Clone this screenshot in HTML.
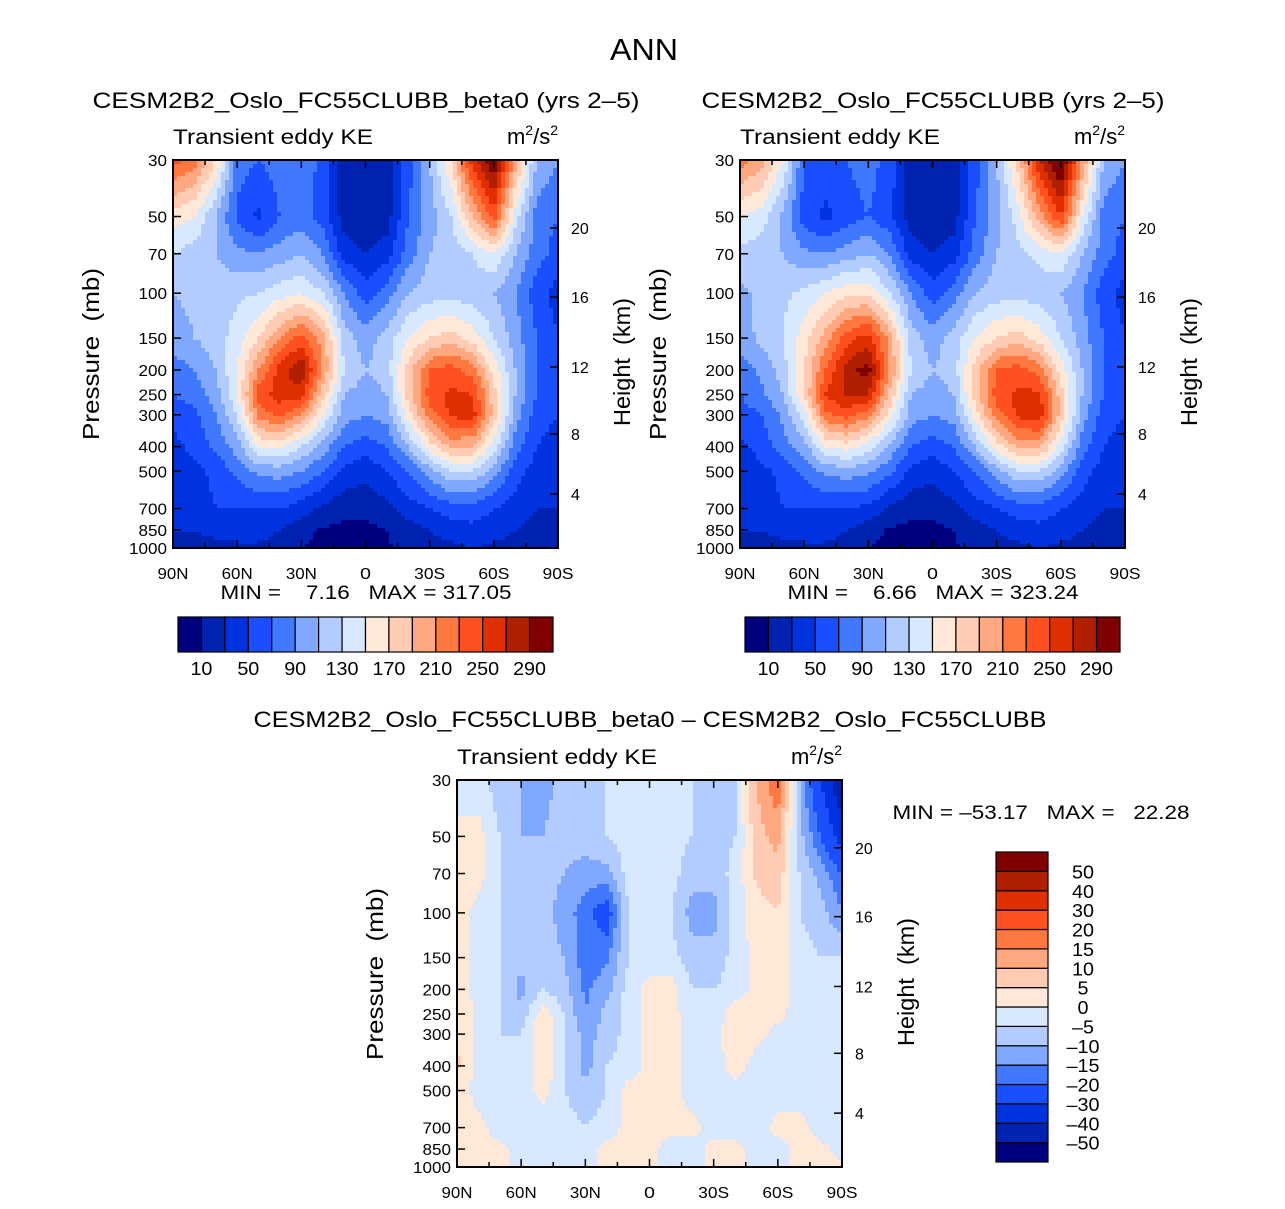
<!DOCTYPE html>
<html><head><meta charset="utf-8"><style>
html,body{margin:0;padding:0;background:#fff}
svg text{font-family:"Liberation Sans",sans-serif;fill:#000;white-space:pre}
</style></head><body>
<svg id="s" width="1285" height="1204" viewBox="0 0 1285 1204" xmlns="http://www.w3.org/2000/svg">
<text x="644" y="60" font-size="31" text-anchor="middle" textLength="68" lengthAdjust="spacingAndGlyphs">ANN</text>
</svg>
<script>
const lats=[90,80,70,60,50,40,30,20,10,0,-10,-20,-30,-40,-50,-60,-70,-80,-90];
const levels=[30,50,70,100,150,200,250,300,400,500,700,850,1000];
const keLevels=[10,30,50,70,90,110,130,150,170,190,210,230,250,270,290];
const diffLevels=[-50,-40,-30,-20,-15,-10,-5,0,5,10,15,20,30,40,50];
const colors=["#00007f","#0022b0","#0033e0","#1a4fff","#4078ff","#80a8ff","#b3ccff","#d8e8ff","#ffe8d8","#ffccb3","#ffa880","#ff7840","#ff5020","#e03000","#b02000","#800000"];
const keTickLabels=["10","50","90","130","170","210","250","290"];
const diffTickLabels=["-50","-40","-30","-20","-15","-10","-5","0","5","10","15","20","30","40","50"];
const latLabels=["90N","60N","30N","0","30S","60S","90S"];
const presLabels=[30,50,70,100,150,200,250,300,400,500,700,850,1000];
const kmLabels=[4,8,12,16,20];
const keA=[
[240,220,170,80,70,80,90,60,20,10,20,60,110,170,260,310,200,110,90],
[160,150,110,65,45,70,80,60,20,15,20,70,100,130,190,240,140,80,70],
[130,120,110,95,90,100,110,90,40,30,40,80,110,120,130,150,110,80,60],
[110,115,120,125,130,140,150,130,90,60,80,110,120,120,120,110,90,60,40],
[100,110,120,140,170,210,240,200,120,100,120,150,170,180,160,130,100,70,50],
[80,90,110,150,210,260,290,210,130,110,120,180,230,240,220,160,110,70,50],
[70,80,100,150,240,260,260,180,110,100,110,180,240,255,250,180,110,70,50],
[55,65,90,130,220,235,210,150,100,90,100,160,220,255,260,180,100,60,50],
[45,55,75,100,150,155,130,100,70,60,70,110,160,195,190,140,80,50,40],
[35,45,55,75,95,100,90,70,45,35,50,70,100,130,130,100,60,40,30],
[30,40,50,50,50,50,40,25,15,15,25,40,50,60,60,50,40,30,30],
[30,30,40,40,40,30,15,8,5,5,10,20,30,40,45,40,30,20,20],
[20,20,20,25,25,20,10,6,5,5,8,15,20,25,30,25,20,15,10]];
const keB=[
[220,200,150,70,60,70,80,60,20,10,20,60,110,180,270,320,210,110,90],
[150,140,105,60,45,60,70,55,20,15,20,70,100,140,200,250,150,80,70],
[125,120,110,95,90,100,110,90,40,30,40,80,110,125,135,150,110,80,60],
[105,115,125,135,150,165,165,130,90,60,80,110,120,120,120,110,90,60,40],
[100,115,130,160,200,240,260,200,120,100,120,150,170,180,160,130,100,70,50],
[80,95,120,170,230,280,300,210,130,110,120,180,230,240,220,160,110,70,50],
[70,85,110,170,250,275,270,185,110,100,110,180,240,255,255,180,110,70,50],
[60,70,95,140,225,240,215,160,100,90,100,160,220,255,265,180,100,60,50],
[45,58,80,100,150,160,140,105,70,60,70,110,160,195,195,140,80,50,40],
[35,45,55,75,95,100,95,75,45,35,50,70,100,130,130,100,60,40,30],
[30,40,50,50,50,50,45,25,15,15,25,40,50,60,60,50,40,30,30],
[30,30,40,40,40,30,18,8,5,5,10,20,30,40,45,40,30,20,20],
[20,20,20,25,25,20,10,6,5,5,8,15,20,25,30,25,20,15,10]];
const diff=[
[-5,-3,-8,-10,-12,-8,-5,-5,-3,-3,-3,-5,-8,-5,10,20,-10,-30,-50],
[3,2,-5,-10,-10,-8,-8,-5,-3,-3,-3,-5,-8,-5,8,12,-8,-20,-35],
[3,2,-5,-8,-8,-10,-12,-12,-3,-3,-3,-8,-8,-3,6,8,-5,-12,-20],
[3,-2,-5,-8,-8,-12,-18,-24,-5,-3,-5,-12,-12,-3,3,5,-5,-8,-15],
[2,-2,-5,-8,-8,-10,-18,-16,-5,-3,-3,-8,-8,-3,2,3,-3,-5,-5],
[3,-2,-5,-12,-5,-8,-16,-12,-3,2,2,-5,-5,-3,2,3,-3,-3,-3],
[5,-2,-5,-8,3,-5,-15,-8,-3,2,2,-3,-3,3,2,2,-3,-3,-3],
[5,-2,-5,-5,5,-5,-12,-8,-3,2,2,-3,-3,5,2,-2,-3,-3,-3],
[6,-2,-5,-5,5,-5,-12,-5,-3,2,2,-3,-3,3,-3,-3,-3,-3,-3],
[4,-3,-5,-3,2,-5,-8,-5,2,2,2,-3,-3,-3,-3,-3,-3,-3,-3],
[3,2,-3,-3,-3,-3,-5,-3,2,2,2,2,-3,-3,-3,2,2,-3,-3],
[3,2,2,-3,-3,-3,-3,2,2,2,-3,-3,2,2,-3,-3,2,2,-3],
[2,2,2,-3,-3,-3,-3,2,2,2,-3,-3,2,2,-3,-3,2,2,2]];

const NS="http://www.w3.org/2000/svg";
const svg=document.getElementById('s');
function mk(tag,attrs,parent,text){const e=document.createElementNS(NS,tag);for(const k in attrs)e.setAttribute(k,attrs[k]);if(text!==undefined)e.textContent=text;(parent||svg).appendChild(e);return e;}
function binOf(v,lv){let i=0;while(i<lv.length&&v>=lv[i])i++;return i;}

function panel(name,x0,y0,w,h,data,lv,sub,subX,subY,subLen){
  const g=mk('g',{},svg);
  
  
  const xS=lat=>x0+(90-lat)/180*w;
  const yS=p=>y0+Math.log(p/levels[0])/Math.log(levels[levels.length-1]/levels[0])*h;
  const step=4;
  for(let py=0;py<h;py+=step){
    const yc=y0+py+step/2;
    const p=levels[0]*Math.exp((yc-y0)/h*Math.log(levels[levels.length-1]/levels[0]));
    let j=0;while(j<levels.length-2&&p>levels[j+1])j++;
    const ty=Math.min(1,Math.max(0,Math.log(p/levels[j])/Math.log(levels[j+1]/levels[j])));
    let runStart=0,runC=-1;
    const cols=Math.ceil(w/step);
    for(let i=0;i<=cols;i++){
      let c=-2;
      if(i<cols){
        const xc=x0+i*step+step/2;
        const lat=90-(xc-x0)/w*180;
        const fi=Math.min(lats.length-1.0001,Math.max(0,(90-lat)/10));
        const k=Math.floor(fi),tx=fi-k;
        const v=(1-ty)*((1-tx)*data[j][k]+tx*data[j][k+1])+ty*((1-tx)*data[j+1][k]+tx*data[j+1][k+1]);
        c=binOf(v,lv);
      }
      if(c!==runC){
        if(runC>=0){
          const r=mk('rect',{x:x0+runStart*step,y:y0+py,width:Math.min((i-runStart)*step,w-runStart*step)+0.3,height:Math.min(step,h-py)+0.3,fill:colors[runC]},g);
          
          
        }
        runStart=i;runC=c;
      }
    }
  }
  mk('rect',{x:x0,y:y0,width:w,height:h,fill:'none',stroke:'#000','stroke-width':2},g);
  for(let a=90;a>=-90;a-=15){
    const x=xS(a);const major=a%30===0;
    mk('line',{x1:x,x2:x,y1:y0+h,y2:y0+h-(major?8:5),stroke:'#000','stroke-width':1.5},g);
    mk('line',{x1:x,x2:x,y1:y0,y2:y0+(major?8:5),stroke:'#000','stroke-width':1.5},g);
  }
  latLabels.forEach((t,i)=>{const l=mk('text',{x:xS(90-i*30),y:y0+h+31,'font-size':16,'text-anchor':'middle',textLength:t.length>1?31:11,lengthAdjust:'spacingAndGlyphs'},g,t);});
  presLabels.forEach(p=>{const y=yS(p);mk('line',{x1:x0,x2:x0+8,y1:y,y2:y,stroke:'#000','stroke-width':1.5},g);
    const s=String(p);
    const l=mk('text',{x:x0-6,y:y+6,'font-size':16,'text-anchor':'end',textLength:s.length*9.5,lengthAdjust:'spacingAndGlyphs'},g,s);});
  const kmOff=[334,274,207,137,68];
  kmLabels.forEach((k,i)=>{const y=y0+kmOff[i]*h/388;mk('line',{x1:x0+w,x2:x0+w-8,y1:y,y2:y,stroke:'#000','stroke-width':1.5},g);
    const l=mk('text',{x:x0+w+13,y:y+6,'font-size':16},g,String(k));});
  const yl=mk('text',{x:0,y:0,'font-size':23,'text-anchor':'middle',textLength:172,lengthAdjust:'spacingAndGlyphs',transform:`translate(${x0-74},${y0+194}) rotate(-90)`},g,'Pressure  (mb)');
  
  const yr=mk('text',{x:0,y:0,'font-size':23,'text-anchor':'middle',textLength:128,lengthAdjust:'spacingAndGlyphs',transform:`translate(${x0+w+72},${y0+202}) rotate(-90)`},g,'Height  (km)');
  
  const t1=mk('text',{x:x0,y:y0-16,'font-size':21,textLength:200,lengthAdjust:'spacingAndGlyphs'},g,'Transient eddy KE');
  const t2=mk('text',{x:x0+w,y:y0-16,'font-size':22,'text-anchor':'end'},g);
  t2.innerHTML='m<tspan font-size="14" dy="-9">2</tspan><tspan dy="9">/s</tspan><tspan font-size="14" dy="-9">2</tspan>';
  
  const st=mk('text',{x:subX,y:subY,'font-size':22,'text-anchor':'middle',textLength:subLen,lengthAdjust:'spacingAndGlyphs'},g,sub);
}
function hbar(name,x0,y0,w,h){
  const g=mk('g',{},svg);
  const bw=w/colors.length;
  colors.forEach((c,i)=>{const r=mk('rect',{x:x0+i*bw,y:y0,width:bw,height:h,fill:c,stroke:'#000','stroke-width':1.2},g);});
  keTickLabels.forEach((t,i)=>{const l=mk('text',{x:x0+(1+2*i)*bw,y:y0+h+23,'font-size':18,'text-anchor':'middle',textLength:t.length*11,lengthAdjust:'spacingAndGlyphs'},g,t);});
}
panel('panel-beta0',173,160,385,388,keA,keLevels,'CESM2B2_Oslo_FC55CLUBB_beta0 (yrs 2–5)',366,108,547);
panel('panel-control',740,160,385,388,keB,keLevels,'CESM2B2_Oslo_FC55CLUBB (yrs 2–5)',933,108,463);
panel('panel-difference',457,780,385,387,diff,diffLevels,'CESM2B2_Oslo_FC55CLUBB_beta0 – CESM2B2_Oslo_FC55CLUBB',650,727,793);
hbar('colorbar-beta0',178,617,375,35);
hbar('colorbar-control',745,617,375,35);
[['MIN =    7.16   MAX = 317.05',366],['MIN =    6.66   MAX = 323.24',933]].forEach(([t,x])=>{const l=mk('text',{x:x,y:599,'font-size':19,'text-anchor':'middle',textLength:291,lengthAdjust:'spacingAndGlyphs'},svg,t);});
const dm=mk('text',{x:1041,y:819,'font-size':19,'text-anchor':'middle',textLength:297,lengthAdjust:'spacingAndGlyphs'},svg,'MIN = –53.17   MAX =   22.28');
const vg=mk('g',{},svg);
const vb=310/colors.length;
colors.forEach((c,i)=>{const r=mk('rect',{x:996,y:1162-(i+1)*vb,width:52,height:vb,fill:c,stroke:'#000','stroke-width':1.2},vg);});
diffTickLabels.forEach((t,i)=>{const s=t.replace('-','–');const l=mk('text',{x:1083,y:1162-(i+1)*vb+7,'font-size':18,'text-anchor':'middle',textLength:s.length*11,lengthAdjust:'spacingAndGlyphs'},vg,s);});
</script>
</body></html>
